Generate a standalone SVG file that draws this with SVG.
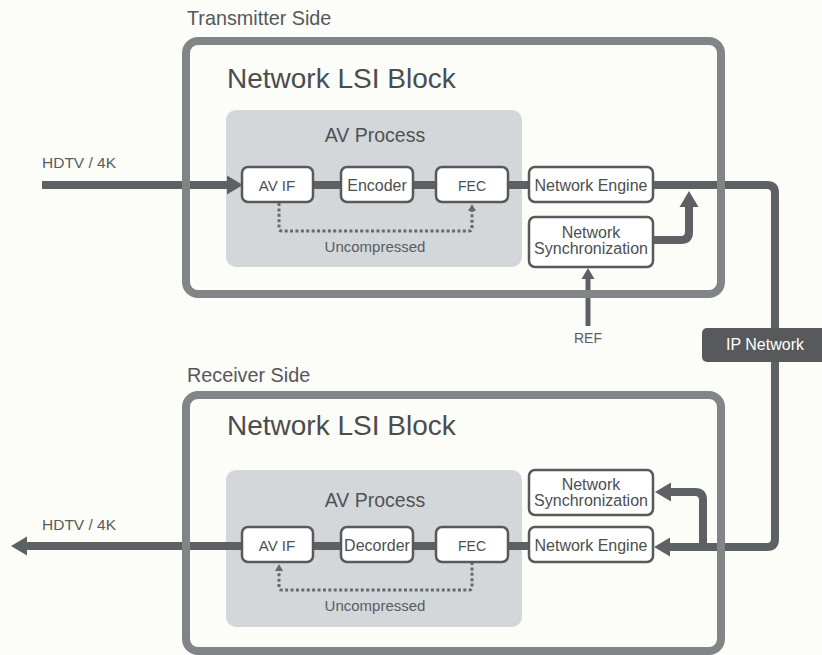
<svg xmlns="http://www.w3.org/2000/svg" width="822" height="655" viewBox="0 0 822 655">
<defs>
<style>
text{font-family:"Liberation Sans",Arial,sans-serif;fill:#505254}
.side{font-size:19.8px;fill:#555759}
.title{font-size:28px;fill:#4a4c4e}
.avp{font-size:19.5px;fill:#505254}
.unc{font-size:15px;fill:#5a5c5e}
.lbl{font-size:15.5px;fill:#5a5c5e}
.box{fill:#ffffff;stroke:#58595b;stroke-width:2.5}
.bt{font-size:16px;fill:#4d4f51}
.outer{fill:none;stroke:#818587;stroke-width:8}
.proc{fill:#d4d7da}
.main{fill:none;stroke:#5e6163;stroke-width:8}
.thin{fill:none;stroke:#5e6163;stroke-width:5}
.dot{fill:none;stroke:#66696b;stroke-width:3;stroke-dasharray:3 2.4}
</style>
<marker id="big" markerUnits="userSpaceOnUse" markerWidth="17" markerHeight="20" refX="0" refY="10" orient="auto">
<path d="M0,0.5 L16,10 L0,19.5 Z" fill="#5e6163"/>
</marker>
<marker id="mid" markerUnits="userSpaceOnUse" markerWidth="12" markerHeight="14" refX="0" refY="7" orient="auto">
<path d="M0,0.5 L11,7 L0,13.5 Z" fill="#5e6163"/>
</marker>
<marker id="small" markerUnits="userSpaceOnUse" markerWidth="8" markerHeight="9" refX="0" refY="4.5" orient="auto">
<path d="M0,0.5 L7,4.5 L0,8.5 Z" fill="#66696b"/>
</marker>
</defs>
<rect x="0" y="0" width="822" height="655" fill="#fcfcf9"/>

<text class="side" x="187" y="25">Transmitter Side</text>
<text class="side" x="187" y="382">Receiver Side</text>

<g id="tx-avprocess">
<rect class="proc" x="226" y="110" width="296" height="157" rx="10"/>
<text class="avp" x="375" y="142" text-anchor="middle">AV Process</text>
<text class="unc" x="375" y="252" text-anchor="middle">Uncompressed</text>
</g>
<g id="rx-avprocess">
<rect class="proc" x="226" y="470" width="296" height="157" rx="10"/>
<text class="avp" x="375" y="507" text-anchor="middle">AV Process</text>
<text class="unc" x="375" y="611" text-anchor="middle">Uncompressed</text>
</g>

<g id="connectors">
<path class="main" d="M42,185 H227" marker-end="url(#big)"/>
<path class="main" d="M313,185 H341"/>
<path class="main" d="M413,185 H436"/>
<path class="main" d="M508,185 H529"/>
<path class="main" d="M653,185 H767 Q775,185 775,193 V539 Q775,547 767,547 H670" marker-end="url(#big)"/>
<path class="main" d="M653,240 H681 Q689,240 689,232 V207" marker-end="url(#big)"/>
<path class="thin" d="M588,326 V279" marker-end="url(#mid)"/>
<path class="main" d="M703,547 V500 Q703,492 695,492 H671" marker-end="url(#big)"/>
<path class="main" d="M241,546 H27" marker-end="url(#big)"/>
<path class="main" d="M313,546 H341"/>
<path class="main" d="M413,546 H436"/>
<path class="main" d="M508,546 H529"/>
<path class="dot" d="M279,203 V228 Q279,231 282,231 H469 Q472,231 472,228 V211" marker-end="url(#small)"/>
<path class="dot" d="M472,562 V587 Q472,590 469,590 H282 Q279,590 279,587 V571" marker-end="url(#small)"/>
</g>

<g id="tx-block">
<rect class="outer" x="186" y="41" width="535" height="253" rx="12"/>
<text class="title" x="227" y="88">Network LSI Block</text>
</g>
<g id="rx-block">
<rect class="outer" x="186" y="395" width="535" height="256" rx="12"/>
<text class="title" x="227" y="435">Network LSI Block</text>
</g>

<text class="lbl" x="42" y="168">HDTV / 4K</text>
<text class="lbl" x="42" y="530">HDTV / 4K</text>
<text class="lbl" x="588" y="343" text-anchor="middle" style="font-size:14px">REF</text>

<g id="tx-avif"><rect class="box" x="242" y="167" width="71" height="35" rx="6"/><text class="bt" x="277" y="191" text-anchor="middle" style="font-size:15px">AV IF</text></g>
<g id="tx-encoder"><rect class="box" x="341" y="167" width="72" height="35" rx="6"/><text class="bt" x="377" y="191" text-anchor="middle">Encoder</text></g>
<g id="tx-fec"><rect class="box" x="436" y="167" width="72" height="35" rx="6"/><text class="bt" x="472" y="191" text-anchor="middle" style="font-size:14px">FEC</text></g>
<g id="tx-engine"><rect class="box" x="529" y="167" width="124" height="35" rx="6"/><text class="bt" x="591" y="191" text-anchor="middle">Network Engine</text></g>
<g id="tx-sync"><rect class="box" x="529" y="217" width="124" height="50" rx="6"/><text class="bt" x="591" y="238" text-anchor="middle">Network</text><text class="bt" x="591" y="254" text-anchor="middle">Synchronization</text></g>

<g id="rx-avif"><rect class="box" x="242" y="527" width="71" height="35" rx="6"/><text class="bt" x="277" y="551" text-anchor="middle" style="font-size:15px">AV IF</text></g>
<g id="rx-decoder"><rect class="box" x="341" y="527" width="72" height="35" rx="6"/><text class="bt" x="377" y="551" text-anchor="middle">Decorder</text></g>
<g id="rx-fec"><rect class="box" x="436" y="527" width="72" height="35" rx="6"/><text class="bt" x="472" y="551" text-anchor="middle" style="font-size:14px">FEC</text></g>
<g id="rx-engine"><rect class="box" x="529" y="527" width="124" height="35" rx="6"/><text class="bt" x="591" y="551" text-anchor="middle">Network Engine</text></g>
<g id="rx-sync"><rect class="box" x="529" y="470" width="124" height="45" rx="6"/><text class="bt" x="591" y="490" text-anchor="middle">Network</text><text class="bt" x="591" y="506" text-anchor="middle">Synchronization</text></g>

<g id="ip-network">
<rect x="702" y="328" width="126" height="34" rx="5" fill="#58595b"/>
<text x="765" y="350" text-anchor="middle" style="font-size:16px;fill:#ffffff">IP Network</text>
</g>
</svg>
